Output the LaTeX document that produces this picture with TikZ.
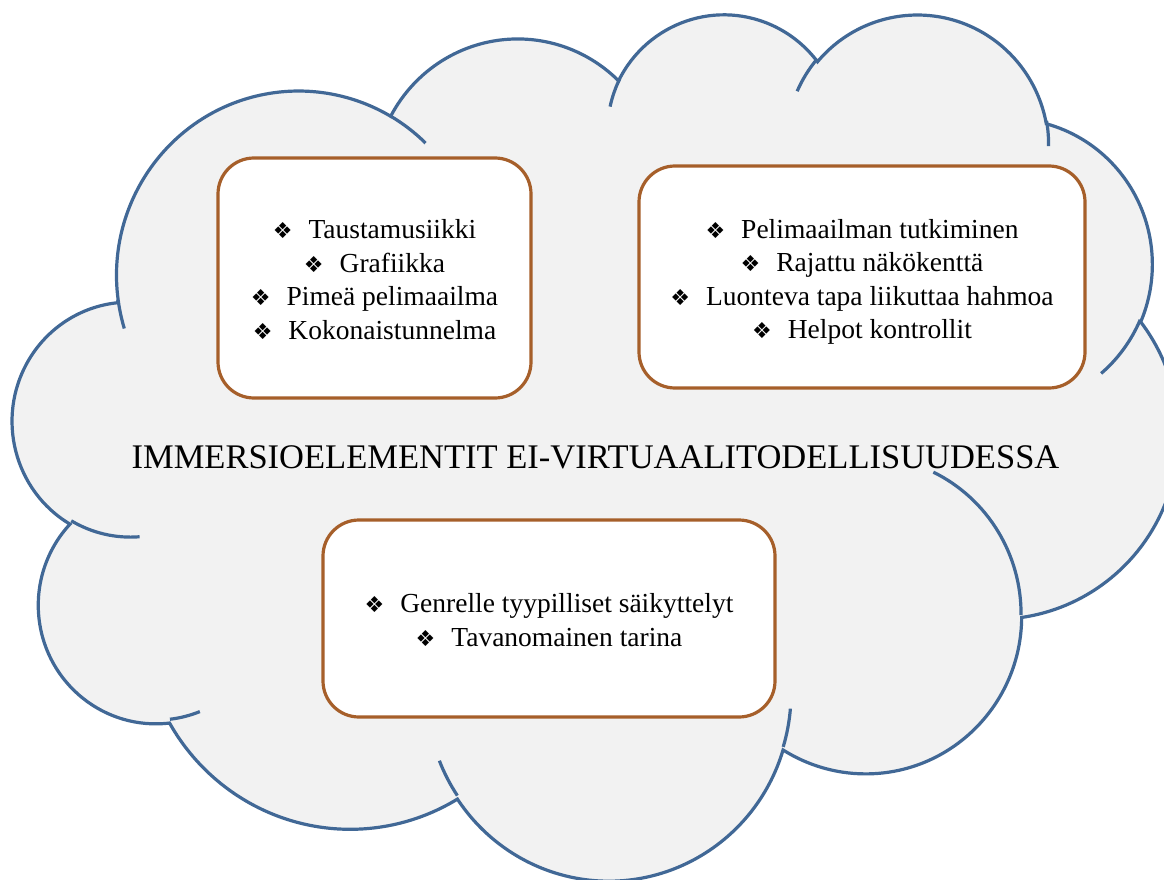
\documentclass[tikz,border=0pt]{standalone}
\usepackage{fontspec}
\setmainfont{Liberation Serif}
\newfontfamily\symfont{DejaVu Sans}
\definecolor{cloudgray}{HTML}{F2F2F2}
\definecolor{cloudblue}{HTML}{416896}
\definecolor{boxbrown}{HTML}{A65F2A}
\newcommand\bul{{\symfont\fontsize{22}{22}\selectfont ❖}\hspace{16pt}}
% visual-angle elliptical arc (DrawingML arcTo) -> TikZ parametric arc
\newcommand\cloudprep[5]{%
  \pgfmathsetmacro\cpS{atan2((#2)*sin(#4),(#3)*cos(#4))}%
  \pgfmathsetmacro\cpE{atan2((#2)*sin((#4)+(#5)),(#3)*cos((#4)+(#5)))}%
  \pgfmathsetmacro\cpD{mod(\cpE-(\cpS)+720,360)}%
  \expandafter\xdef\csname #1\endcsname{arc[start angle=\cpS, delta angle=\cpD, x radius=#2, y radius=#3]}%
}
\begin{document}
\begin{tikzpicture}[x=1pt,y=1pt,yscale=-1,
  cloudshape/.style={fill=cloudgray, draw=cloudblue, line width=3.2pt},
  hook/.style={draw=cloudblue, line width=3.2pt},
  itembox/.style={draw=boxbrown, fill=white, line width=3.2pt, rounded corners=36pt, inner sep=0pt},
  itemtext/.style={align=center, font=\fontsize{27.5}{33.5}\selectfont, inner sep=0pt},
  titletext/.style={font=\fontsize{34.5}{40}\selectfont, inner sep=0pt}]
\useasboundingbox (0,0) rectangle (1164,880);
\fill[white] (0,0) rectangle (1164,880);
\clip (0,0) rectangle (1164,880);
% outline arcs
\cloudprep{CLa}{67.53}{91.90}{-190.48748}{123.78053}
\cloudprep{CLb}{53.33}{72.67}{-144.10238}{89.94523}
\cloudprep{CLc}{43.65}{59.45}{-145.80792}{99.72302}
\cloudprep{CLd}{48.57}{65.95}{-130.98607}{117.24173}
\cloudprep{CLe}{53.33}{72.73}{-78.70888}{109.02692}
\cloudprep{CLf}{67.75}{92.20}{-46.26725}{130.26900}
\cloudprep{CLg}{57.85}{78.67}{0.62502}{114.03333}
\cloudprep{CLh}{67.52}{92.15}{22.45160}{115.17255}
\cloudprep{CLi}{77.20}{105.43}{66.24263}{75.71102}
\cloudprep{CLj}{43.60}{59.18}{-274.94208}{146.73557}
\cloudprep{CLk}{43.45}{59.45}{-246.82850}{152.51885}
% inner hooks
\cloudprep{HKa}{43.45}{59.45}{86.74200}{26.42950}
\cloudprep{HKb}{43.60}{59.18}{73.61047}{11.44747}
\cloudprep{HKc}{67.52}{92.15}{137.62415}{14.08110}
\cloudprep{HKd}{67.52}{92.15}{6.45327}{15.99835}
\cloudprep{HKe}{57.85}{78.67}{-70.29235}{70.91737}
\cloudprep{HKf}{53.33}{72.73}{30.31803}{27.75150}
\cloudprep{HKg}{48.57}{65.95}{-13.74433}{14.85890}
\cloudprep{HKh}{48.57}{65.95}{-149.18145}{18.19537}
\cloudprep{HKi}{43.65}{59.45}{-163.49427}{17.68635}
\cloudprep{HKj}{67.53}{91.90}{-66.70695}{12.31935}
\cloudprep{HKk}{67.53}{91.90}{157.65203}{11.85817}
\begin{scope}[shift={(13,12)},xscale=2.69676,yscale=2.00463]
  \path[cloudshape] (39.00,143.70) \CLa \CLb \CLc \CLd \CLe \CLf \CLg \CLh \CLi \CLj \CLk -- cycle;
  \path[hook] (46.93,261.77) \HKa (69.28,348.99) \HKb (164.78,390.90) \HKc
    (288.27,347.51) \HKd (341.29,229.54) \HKe (417.98,153.54) \HKf
    (383.24,54.26) \HKg (290.78,39.52) \HKh (221.41,47.20) \HKi
    (140.00,51.92) \HKj (41.27,157.89) \HKk;
\end{scope}
% boxes
\node[itembox, minimum width=313pt, minimum height=240pt] (box1) at (374.5,278) {};
\node[itembox, minimum width=446pt, minimum height=222pt] (box2) at (862,277) {};
\node[itembox, minimum width=452pt, minimum height=197pt] (box3) at (549,618.5) {};
\node[itemtext] (text1) at (374.5,279.5) {\bul Taustamusiikki\\ \bul Grafiikka\\ \bul Pimeä pelimaailma\\ \bul Kokonaistunnelma};
\node[itemtext] (text2) at (862,282) {\bul Pelimaailman tutkiminen\\ \bul Rajattu näkökenttä\\ \bul Luonteva tapa liikuttaa hahmoa\\ \bul Helpot kontrollit};
\node[itemtext] (text3) at (549,620) {\bul Genrelle tyypilliset säikyttelyt\\ \bul Tavanomainen tarina};
\node[titletext, anchor=base] (title) at (595.5,468) {IMMERSIOELEMENTIT EI-VIRTUAALITODELLISUUDESSA};
\end{tikzpicture}
\end{document}
